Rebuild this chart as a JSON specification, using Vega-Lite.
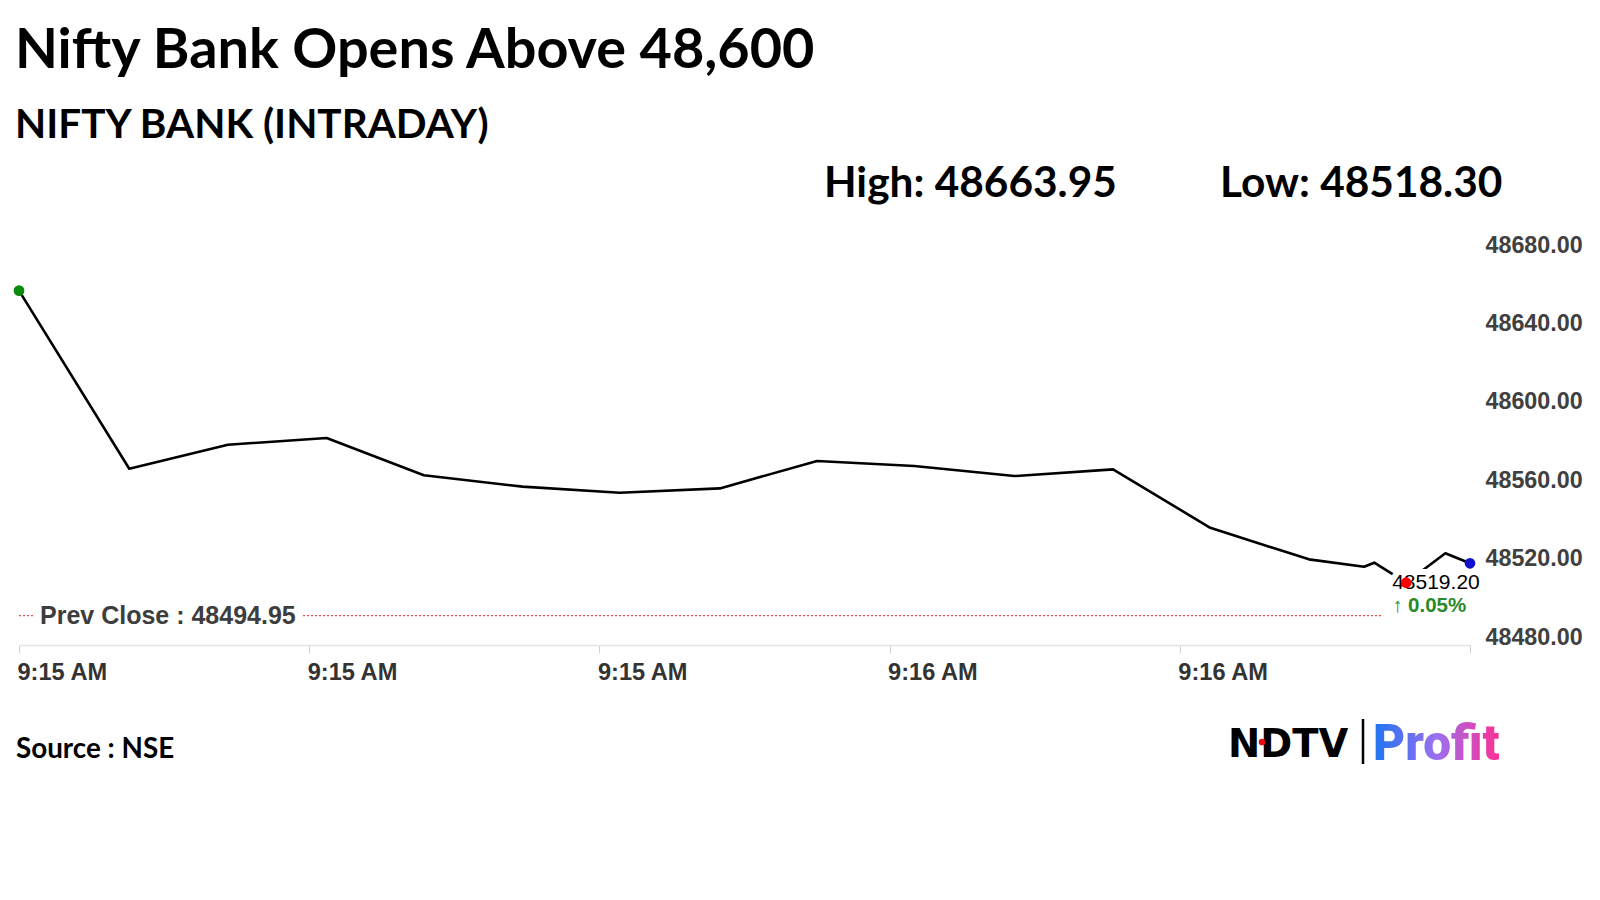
{
  "$schema": "https://vega.github.io/schema/vega-lite/v6.json",
  "width": 1451,
  "height": 392,
  "autosize": "none",
  "padding": {"left": 19, "top": 253, "right": 130, "bottom": 255},
  "background": "white",
  "config": {"view": {"stroke": null}},
  "title": {
    "text": "Nifty Bank Opens Above 48,600",
    "subtitle": "NIFTY BANK (INTRADAY)",
    "anchor": "start",
    "frame": "group",
    "font": "Lato",
    "fontSize": 55.8,
    "fontWeight": "bold",
    "color": "#000000",
    "subtitleFont": "Lato",
    "subtitleFontSize": 40.5,
    "subtitleFontWeight": "bold",
    "subtitleColor": "#000000",
    "subtitlePadding": 26,
    "offset": 16,
    "dx": -4
  },
  "datasets": {
    "series": [
      {"time": "2024-06-10T09:15:00.000Z", "value": 48660.8},
      {"time": "2024-06-10T09:15:07.600Z", "value": 48569.9},
      {"time": "2024-06-10T09:15:14.400Z", "value": 48582.2},
      {"time": "2024-06-10T09:15:21.200Z", "value": 48585.6},
      {"time": "2024-06-10T09:15:27.900Z", "value": 48566.6},
      {"time": "2024-06-10T09:15:34.700Z", "value": 48560.8},
      {"time": "2024-06-10T09:15:41.400Z", "value": 48557.7},
      {"time": "2024-06-10T09:15:48.300Z", "value": 48559.9},
      {"time": "2024-06-10T09:15:55.000Z", "value": 48573.9},
      {"time": "2024-06-10T09:16:01.700Z", "value": 48571.3},
      {"time": "2024-06-10T09:16:08.600Z", "value": 48566.2},
      {"time": "2024-06-10T09:16:15.400Z", "value": 48569.6},
      {"time": "2024-06-10T09:16:22.100Z", "value": 48539.8},
      {"time": "2024-06-10T09:16:28.900Z", "value": 48523.7},
      {"time": "2024-06-10T09:16:32.700Z", "value": 48519.9},
      {"time": "2024-06-10T09:16:33.400Z", "value": 48522.0},
      {"time": "2024-06-10T09:16:35.600Z", "value": 48511.8},
      {"time": "2024-06-10T09:16:38.300Z", "value": 48526.8},
      {"time": "2024-06-10T09:16:40.000Z", "value": 48521.7}
    ],
    "dots": [
      {"time": "2024-06-10T09:15:00.000Z", "value": 48660.8, "kind": "Open"},
      {"time": "2024-06-10T09:16:35.600Z", "value": 48511.8, "kind": "Low"},
      {"time": "2024-06-10T09:16:40.000Z", "value": 48521.7, "kind": "Last"}
    ],
    "prev": [
      {"from": "2024-06-10T09:15:00.000Z", "to": "2024-06-10T09:16:34.000Z", "value": 48494.95, "label": "Prev Close : 48494.95"}
    ],
    "callout": [
      {"time": "2024-06-10T09:16:35.600Z", "value": 48511.8, "price": "48519.20", "change": "↑ 0.05%"}
    ]
  },
  "layer": [
    {
      "data": {"name": "prev"},
      "mark": {"type": "rule", "color": "#e02020", "strokeWidth": 1, "strokeDash": [2, 2]},
      "encoding": {
        "x": {"field": "from", "type": "temporal"},
        "x2": {"field": "to"},
        "y": {"field": "value", "type": "quantitative"}
      }
    },
    {
      "data": {"name": "series"},
      "mark": {"type": "line", "color": "#000000", "strokeWidth": 2.6, "strokeJoin": "round"},
      "encoding": {
        "x": {
          "field": "time",
          "type": "temporal",
          "scale": {
            "type": "utc",
            "domain": [
              {"year": 2024, "month": 6, "date": 10, "hours": 9, "minutes": 15, "seconds": 0, "utc": true},
              {"year": 2024, "month": 6, "date": 10, "hours": 9, "minutes": 16, "seconds": 40, "utc": true}
            ]
          },
          "axis": {
            "title": null,
            "values": [
              {"year": 2024, "month": 6, "date": 10, "hours": 9, "minutes": 15, "seconds": 0, "utc": true},
              {"year": 2024, "month": 6, "date": 10, "hours": 9, "minutes": 15, "seconds": 20, "utc": true},
              {"year": 2024, "month": 6, "date": 10, "hours": 9, "minutes": 15, "seconds": 40, "utc": true},
              {"year": 2024, "month": 6, "date": 10, "hours": 9, "minutes": 16, "seconds": 0, "utc": true},
              {"year": 2024, "month": 6, "date": 10, "hours": 9, "minutes": 16, "seconds": 20, "utc": true},
              {"year": 2024, "month": 6, "date": 10, "hours": 9, "minutes": 16, "seconds": 40, "utc": true}
            ],
            "format": "%-I:%M %p",
            "labelExpr": "utcFormat(datum.value, '%M:%S') == '16:40' ? '' : datum.label",
            "grid": false,
            "domain": true,
            "domainColor": "#e3e3e3",
            "domainWidth": 1.5,
            "ticks": true,
            "tickColor": "#d0d0d0",
            "tickSize": 8,
            "tickWidth": 1,
            "labelAlign": "left",
            "labelBaseline": "top",
            "labelFlush": false,
            "labelOverlap": false,
            "labelPadding": 7,
            "labelOffset": -2,
            "labelFont": "Liberation Sans",
            "labelFontWeight": "bold",
            "labelFontSize": 23.6,
            "labelColor": "#333333"
          }
        },
        "y": {
          "field": "value",
          "type": "quantitative",
          "scale": {"domain": [48480, 48680], "nice": false, "zero": false},
          "axis": {
            "orient": "right",
            "title": null,
            "values": [48480, 48520, 48560, 48600, 48640, 48680],
            "format": ".2f",
            "grid": false,
            "domain": false,
            "ticks": false,
            "labelPadding": 15,
            "labelAlign": "left",
            "labelBaseline": "middle",
            "labelOffset": -8,
            "labelFont": "Liberation Sans",
            "labelFontWeight": "bold",
            "labelFontSize": 23.3,
            "labelColor": "#404040"
          }
        }
      }
    },
    {
      "data": {"name": "prev"},
      "mark": {"type": "text", "align": "left", "baseline": "middle", "dx": 21, "font": "Liberation Sans", "fontWeight": "bold", "fontSize": 25, "fill": "white", "stroke": "white", "strokeWidth": 14, "strokeJoin": "round"},
      "encoding": {
        "x": {"field": "from", "type": "temporal"},
        "y": {"field": "value", "type": "quantitative"},
        "text": {"field": "label"}
      }
    },
    {
      "data": {"name": "prev"},
      "mark": {"type": "text", "align": "left", "baseline": "middle", "dx": 21, "font": "Liberation Sans", "fontWeight": "bold", "fontSize": 25, "fill": "#3d3d3d"},
      "encoding": {
        "x": {"field": "from", "type": "temporal"},
        "y": {"field": "value", "type": "quantitative"},
        "text": {"field": "label"}
      }
    },
    {
      "data": {"name": "callout"},
      "mark": {"type": "text", "align": "left", "baseline": "middle", "dx": -14, "dy": 0, "font": "Liberation Sans", "fontSize": 21, "fill": "white", "stroke": "white", "strokeWidth": 12, "strokeJoin": "round"},
      "encoding": {
        "x": {"field": "time", "type": "temporal"},
        "y": {"field": "value", "type": "quantitative"},
        "text": {"field": "price"}
      }
    },
    {
      "data": {"name": "callout"},
      "mark": {"type": "text", "align": "left", "baseline": "middle", "dx": -14, "dy": 23, "font": "Liberation Sans", "fontWeight": "bold", "fontSize": 20.5, "fill": "white", "stroke": "white", "strokeWidth": 12, "strokeJoin": "round"},
      "encoding": {
        "x": {"field": "time", "type": "temporal"},
        "y": {"field": "value", "type": "quantitative"},
        "text": {"field": "change"}
      }
    },
    {
      "data": {"name": "callout"},
      "mark": {"type": "text", "align": "left", "baseline": "middle", "dx": -14, "dy": 0, "font": "Liberation Sans", "fontSize": 21, "fill": "#000000"},
      "encoding": {
        "x": {"field": "time", "type": "temporal"},
        "y": {"field": "value", "type": "quantitative"},
        "text": {"field": "price"}
      }
    },
    {
      "data": {"name": "callout"},
      "mark": {"type": "text", "align": "left", "baseline": "middle", "dx": -14, "dy": 23, "font": "Liberation Sans", "fontWeight": "bold", "fontSize": 20.5, "fill": "#2a8a2a"},
      "encoding": {
        "x": {"field": "time", "type": "temporal"},
        "y": {"field": "value", "type": "quantitative"},
        "text": {"field": "change"}
      }
    },
    {
      "data": {"name": "dots"},
      "mark": {"type": "point", "filled": true, "size": 115, "opacity": 1},
      "encoding": {
        "x": {"field": "time", "type": "temporal"},
        "y": {"field": "value", "type": "quantitative"},
        "color": {
          "field": "kind",
          "type": "nominal",
          "scale": {"domain": ["Open", "Low", "Last"], "range": ["#0a8a0a", "#ff0000", "#1010d0"]},
          "legend": null
        }
      }
    },
    {
      "data": {"values": [{"label": "High: 48663.95"}]},
      "mark": {"type": "text", "align": "left", "baseline": "alphabetic", "font": "Lato", "fontWeight": "bold", "fontSize": 42.4, "fill": "#000000"},
      "encoding": {"x": {"value": 805}, "y": {"value": -56}, "text": {"field": "label"}}
    },
    {
      "data": {"values": [{"label": "Low: 48518.30"}]},
      "mark": {"type": "text", "align": "left", "baseline": "alphabetic", "font": "Lato", "fontWeight": "bold", "fontSize": 42.4, "fill": "#000000"},
      "encoding": {"x": {"value": 1201}, "y": {"value": -56}, "text": {"field": "label"}}
    },
    {
      "data": {"values": [{"label": "Source : NSE"}]},
      "mark": {"type": "text", "align": "left", "baseline": "alphabetic", "font": "Lato", "fontWeight": "bold", "fontSize": 27.8, "fill": "#000000"},
      "encoding": {"x": {"value": -3}, "y": {"value": 505}, "text": {"field": "label"}}
    },
    {
      "data": {"values": [{"label": "NDTV"}]},
      "mark": {"type": "text", "align": "left", "baseline": "alphabetic", "font": "DejaVu Sans", "fontWeight": "bold", "fontSize": 38.5, "fill": "#000000"},
      "encoding": {"x": {"value": 1209}, "y": {"value": 504}, "text": {"field": "label"}}
    },
    {
      "data": {"values": [{"label": "logo dot"}]},
      "mark": {"type": "point", "filled": true, "size": 45, "color": "#e01010", "opacity": 1},
      "encoding": {"x": {"value": 1243}, "y": {"value": 489}}
    },
    {
      "data": {"values": [{"label": "logo bar"}]},
      "mark": {"type": "rule", "color": "#000000", "strokeWidth": 2.5},
      "encoding": {"x": {"value": 1344}, "y": {"value": 466}, "y2": {"value": 511}}
    },
    {
      "data": {"values": [{"label": "Profit"}]},
      "mark": {
        "type": "text",
        "align": "left",
        "baseline": "alphabetic",
        "font": "Roboto",
        "fontWeight": 900,
        "fontSize": 49.5,
        "fill": {
          "gradient": "linear",
          "x1": 0, "y1": 0, "x2": 1, "y2": 0,
          "stops": [
            {"offset": 0, "color": "#1e74f0"},
            {"offset": 0.5, "color": "#9a70f0"},
            {"offset": 1, "color": "#ff2f95"}
          ]
        }
      },
      "encoding": {"x": {"value": 1354}, "y": {"value": 507}, "text": {"field": "label"}}
    }
  ]
}
